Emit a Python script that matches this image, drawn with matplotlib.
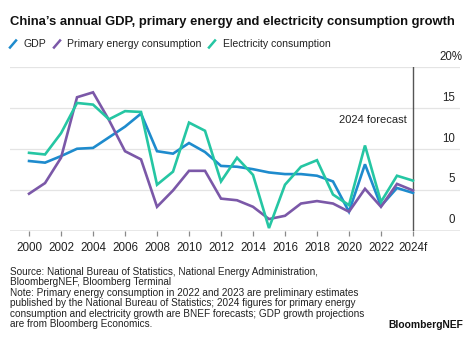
import matplotlib
matplotlib.use("Agg")
import matplotlib.pyplot as plt
from matplotlib.lines import Line2D

plt.rcParams['font.family'] = ['Liberation Sans', 'DejaVu Sans']

years = list(range(2000, 2025))
gdp = [8.5, 8.3, 9.1, 10.0, 10.1, 11.4, 12.7, 14.3, 9.7, 9.4, 10.7, 9.6, 7.9,
       7.8, 7.5, 7.1, 6.9, 6.9, 6.7, 6.0, 2.3, 8.1, 3.0, 5.2, 4.6]
primary_energy = [4.5, 5.8, 8.9, 16.3, 16.9, 13.5, 9.7, 8.7, 2.9, 4.9, 7.3, 7.3, 3.9,
                  3.7, 2.9, 1.4, 1.8, 3.3, 3.6, 3.3, 2.3, 5.1, 2.9, 5.7, 4.9]
electricity = [9.5, 9.3, 11.9, 15.6, 15.4, 13.6, 14.6, 14.5, 5.6, 7.2, 13.2, 12.2, 6.0,
               8.9, 6.8, 0.3, 5.6, 7.8, 8.6, 4.4, 3.1, 10.4, 3.5, 6.7, 6.1]

tick_years = list(range(2000, 2025, 2))
tick_labels = [str(y) for y in tick_years[:-1]] + ["2024f"]
y_ticks = [0, 5, 10, 15, 20]

series = [
    ("GDP", gdp, "#1e8bcd"),
    ("Primary energy consumption", primary_energy, "#7b58a8"),
    ("Electricity consumption", electricity, "#25c6a3"),
]

W, H = 474, 340
fig = plt.figure(figsize=(W / 100, H / 100), dpi=100)
fig.patch.set_facecolor("white")

ax_left, ax_right = 10, 460
ax_bottom, ax_top = 230.5, 67
ax = fig.add_axes([ax_left / W, 1 - ax_bottom / H,
                   (ax_right - ax_left) / W, (ax_bottom - ax_top) / H])
ax.set_xlim(1998.81, 2026.94)
ax.set_ylim(0, 20)

for spine in ax.spines.values():
    spine.set_visible(False)

# horizontal gridlines and baseline
for v in y_ticks[1:]:
    ax.axhline(v, color="#e4e4e4", lw=0.9, zorder=1)
ax.axhline(0, color="#8a8a8a", lw=1.0, zorder=2)

# forecast divider
ax.plot([2024, 2024], [0, 20], color="#555555", lw=1.0, zorder=2)
ax.text(2023.6, 13.5, "2024 forecast", ha="right", va="center",
        fontsize=8, color="#222222")

for name, vals, color in series:
    ax.plot(years, vals, color=color, lw=1.9, zorder=3, clip_on=False,
            solid_joinstyle="miter")

# x ticks
ax.set_xticks(tick_years)
ax.set_xticklabels(tick_labels, fontsize=8.4, color="#222222")
ax.tick_params(axis="x", length=3.5, width=0.9, color="#8a8a8a", pad=5, direction="out")
ax.set_yticks([])

# y labels on right, sitting above gridlines
ylab_x = 2026.6
for v in y_ticks[:-1]:
    ax.annotate(str(v), xy=(ylab_x, v), xytext=(0, 3), textcoords="offset points",
                ha="right", va="bottom", fontsize=8.3, color="#222222")
ax.annotate(f"{y_ticks[-1]}%", xy=(ylab_x, y_ticks[-1]), xytext=(5.5, 3),
            textcoords="offset points", ha="right", va="bottom",
            fontsize=8.3, color="#222222")

# title
fig.text(10 / W, 1 - 22 / H, "China\u2019s annual GDP, primary energy and electricity consumption growth",
         ha="left", va="center", fontsize=9.4, fontweight="bold", color="#111111")

# legend
legend_items = [(10, 24, "GDP", "#1e8bcd"),
                (54, 67, "Primary energy consumption", "#7b58a8"),
                (209, 223, "Electricity consumption", "#25c6a3")]
ly = 44
for ix, tx, label, color in legend_items:
    fig.add_artist(Line2D([ix / W, (ix + 6) / W], [1 - (ly + 3.5) / H, 1 - (ly - 3.5) / H],
                          color=color, lw=1.8, transform=fig.transFigure))
    fig.text(tx / W, 1 - ly / H, label, ha="left", va="center",
             fontsize=7.6, color="#222222")

# footnotes
notes = [
    "Source: National Bureau of Statistics, National Energy Administration,",
    "BloombergNEF, Bloomberg Terminal",
    "Note: Primary energy consumption in 2022 and 2023 are preliminary estimates",
    "published by the National Bureau of Statistics; 2024 figures for primary energy",
    "consumption and electricity growth are BNEF forecasts; GDP growth projections",
    "are from Bloomberg Economics.",
]
for i, line in enumerate(notes):
    fig.text(10 / W, 1 - (272 + i * 10.4) / H, line, ha="left", va="center",
             fontsize=7.2, color="#222222")

fig.text(463 / W, 1 - 325 / H, "BloombergNEF", ha="right", va="center",
         fontsize=7.4, fontweight="bold", color="#111111")

fig.savefig("out.png", dpi=100, facecolor="white")
